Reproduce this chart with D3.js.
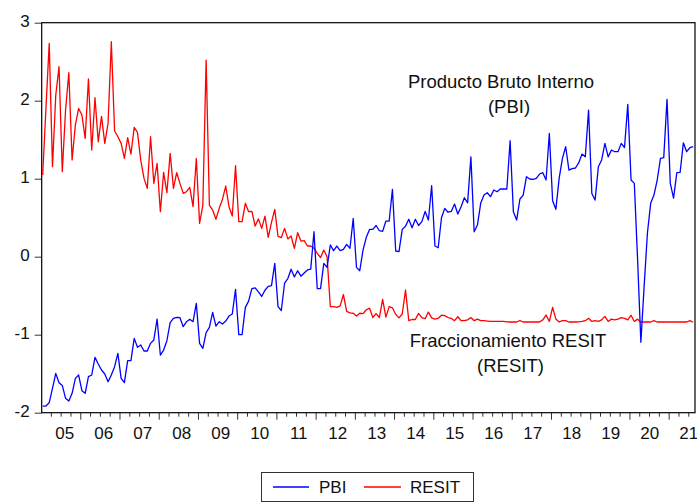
<!DOCTYPE html>
<html>
<head>
<meta charset="utf-8">
<script src="https://cdn.jsdelivr.net/npm/d3@7"></script>
<style>
  html, body { margin: 0; padding: 0; background: #fff; }
  svg { display: block; font-family: "Liberation Sans", Arial, sans-serif; }
</style>
</head>
<body>
<svg id="chart" width="697" height="503"></svg>
<script>
// ---------------- DATA (monthly, 2005M01 - 2021M08) ----------------
const startYear = 2005;
const yearLabels = ["05","06","07","08","09","10","11","12","13","14","15","16","17","18","19","20","21"];
const yTicks = [-2, -1, 0, 1, 2, 3];
const seriesNames = ["PBI", "RESIT"];

const pbi = [
  -1.915,-1.915,-1.872,-1.688,-1.496,-1.615,-1.650,-1.816,-1.850,-1.752,-1.560,-1.517,
  -1.718,-1.752,-1.538,-1.517,-1.291,-1.376,-1.453,-1.504,-1.603,-1.517,-1.410,-1.239,
  -1.560,-1.615,-1.333,-1.333,-1.047,-1.162,-1.132,-1.209,-1.209,-1.111,-1.068,-0.799,
  -1.261,-1.197,-1.077,-0.846,-0.791,-0.778,-0.782,-0.897,-0.833,-0.803,-0.833,-0.598,
  -1.111,-1.175,-0.974,-0.906,-0.714,-0.889,-0.833,-0.863,-0.825,-0.761,-0.735,-0.419,
  -1.00,-1.00,-0.65,-0.57,-0.41,-0.40,-0.45,-0.51,-0.43,-0.38,-0.37,-0.085,
  -0.64,-0.69,-0.34,-0.28,-0.16,-0.26,-0.18,-0.25,-0.21,-0.17,-0.16,0.32,
  -0.41,-0.41,-0.085,-0.137,0.15,0.077,0.137,0.077,0.094,0.158,0.107,0.49,
  -0.137,-0.18,0.085,0.248,0.35,0.35,0.40,0.333,0.325,0.457,0.457,0.863,
  0.073,0.064,0.35,0.39,0.48,0.37,0.48,0.40,0.45,0.58,0.47,0.91,
  0.137,0.115,0.50,0.62,0.57,0.58,0.675,0.547,0.64,0.756,0.69,1.28,
  0.32,0.406,0.684,0.79,0.82,0.77,0.855,0.833,0.868,0.868,0.868,1.487,
  0.577,0.47,0.74,0.79,1.026,0.996,0.991,1.004,1.06,1.077,0.983,1.58,
  0.718,0.607,1.004,1.26,1.41,1.11,1.13,1.137,1.205,1.316,1.28,1.88,
  0.81,0.726,1.154,1.24,1.453,1.28,1.368,1.346,1.346,1.453,1.40,1.953,
  0.983,0.94,-0.04,-1.097,-0.38,0.30,0.684,0.79,0.983,1.26,1.27,2.017,
  0.94,0.75,1.077,1.08,1.46,1.346,1.397,1.41
];

const resit = [
  1.047,1.90,2.735,1.154,2.07,2.436,1.09,1.88,2.36,1.24,1.69,1.90,
  1.816,1.517,2.278,1.368,2.038,1.474,1.80,1.453,1.709,2.756,1.611,1.538,
  1.453,1.26,1.526,1.316,1.658,1.594,1.239,1.004,0.876,1.538,0.94,1.197,
  0.577,1.081,0.82,1.325,0.876,1.077,0.94,0.812,0.833,0.889,0.641,1.26,
  0.427,0.662,2.521,0.662,0.598,0.479,0.62,0.735,0.906,0.641,0.521,1.167,
  0.449,0.449,0.684,0.577,0.58,0.393,0.485,0.363,0.521,0.248,0.44,0.607,
  0.26,0.246,0.363,0.228,0.265,0.107,0.308,0.20,0.205,0.137,0.137,0.11,
  0.043,-0.01,0.085,0.0,-0.64,-0.64,-0.65,-0.63,-0.485,-0.70,-0.72,-0.725,
  -0.76,-0.725,-0.73,-0.68,-0.66,-0.78,-0.73,-0.78,-0.547,-0.775,-0.64,-0.655,
  -0.74,-0.785,-0.735,-0.427,-0.82,-0.805,-0.805,-0.726,-0.78,-0.795,-0.71,-0.785,
  -0.80,-0.79,-0.75,-0.756,-0.78,-0.79,-0.82,-0.77,-0.82,-0.82,-0.81,-0.78,
  -0.82,-0.80,-0.82,-0.82,-0.825,-0.83,-0.83,-0.83,-0.83,-0.83,-0.835,-0.837,
  -0.837,-0.837,-0.82,-0.837,-0.837,-0.837,-0.837,-0.837,-0.837,-0.81,-0.748,-0.83,
  -0.649,-0.80,-0.837,-0.82,-0.82,-0.837,-0.837,-0.837,-0.835,-0.83,-0.82,-0.79,
  -0.83,-0.82,-0.83,-0.81,-0.765,-0.83,-0.80,-0.81,-0.80,-0.78,-0.79,-0.81,
  -0.75,-0.83,-0.80,-0.84,-0.837,-0.837,-0.837,-0.82,-0.837,-0.837,-0.837,-0.837,
  -0.837,-0.837,-0.837,-0.837,-0.837,-0.837,-0.82,-0.84
];

const annotations = [
  { lines: ["Producto Bruto Interno", "(PBI)"], series: "PBI" },
  { lines: ["Fraccionamiento RESIT", "(RESIT)"], series: "RESIT" }
];

// ---------------- CHART ----------------
const svg = d3.select("#chart");
const L = 41.7, R = 695, T = 22.7, B = 412.7;
const nObs = pbi.length;

const x = d3.scaleLinear().domain([-0.3, nObs - 0.44]).range([L, R]);
const y = d3.scaleLinear().domain([-2, 3]).range([B, T]);

// Y axis
const yAxis = svg.append("g")
  .attr("transform", `translate(${L},0)`)
  .call(d3.axisLeft(y).tickValues(yTicks).tickSize(7).tickPadding(5).tickFormat(d => String(d)));
yAxis.select(".domain").remove();
yAxis.selectAll("line").attr("stroke", "#333");
yAxis.selectAll("text").attr("font-size", 17).attr("fill", "#111")
  .attr("font-family", "Liberation Sans, Arial, sans-serif").attr("dy", "0.25em");

// X axis ticks (quarters minor, years major)
const minorTicks = d3.range(1, Math.floor(nObs / 3) + 1).map(k => 3 * k - 0.5).filter(v => v % 12 !== 11.5);
const majorTicks = d3.range(1, yearLabels.length).map(k => 12 * k - 0.5);
const xMinor = svg.append("g").attr("transform", `translate(0,${B})`)
  .call(d3.axisBottom(x).tickValues(minorTicks).tickSize(4).tickFormat(""));
xMinor.select(".domain").remove();
const xMajor = svg.append("g").attr("transform", `translate(0,${B})`)
  .call(d3.axisBottom(x).tickValues(majorTicks).tickSize(7).tickFormat(""));
xMajor.select(".domain").remove();
svg.selectAll("g line").attr("stroke", "#333");

// X labels (near the middle of each year)
const labelPos = yearLabels.map((d, k) => 12 * k + 6.6 - 0.07 * k);
const xLab = svg.append("g").attr("transform", `translate(0,${B})`)
  .call(d3.axisBottom(x).tickValues(labelPos).tickSize(0).tickPadding(14)
    .tickFormat((d, k) => yearLabels[k]));
xLab.select(".domain").remove();
xLab.selectAll("text").attr("font-size", 17).attr("fill", "#111")
  .attr("font-family", "Liberation Sans, Arial, sans-serif");

// Frame
svg.append("rect")
  .attr("x", L).attr("y", T).attr("width", R - L).attr("height", B - T)
  .attr("fill", "none").attr("stroke", "#000").attr("stroke-width", 1.2);

// Lines
const line = d3.line().x((d, i) => x(i)).y(d => y(d));
svg.append("path").datum(resit)
  .attr("d", line).attr("fill", "none").attr("stroke", "#ff0000").attr("stroke-width", 1.3)
  .attr("stroke-linejoin", "round");
svg.append("path").datum(pbi)
  .attr("d", line).attr("fill", "none").attr("stroke", "#0000ff").attr("stroke-width", 1.3)
  .attr("stroke-linejoin", "round");

// Annotations
const annPos = [
  { cx: [501, 509], by: [88, 113] },
  { cx: [508, 510.5], by: [347, 372] }
];
annotations.forEach((a, ai) => {
  a.lines.forEach((t, li) => {
    svg.append("text")
      .attr("x", annPos[ai].cx[li]).attr("y", annPos[ai].by[li])
      .attr("text-anchor", "middle").attr("font-size", 18.5).attr("fill", "#111")
      .text(t);
  });
});

// Legend
const leg = svg.append("g");
leg.append("rect").attr("x", 261.5).attr("y", 472.5).attr("width", 212).attr("height", 29)
  .attr("fill", "#fff").attr("stroke", "#333").attr("stroke-width", 1);
const legItems = [
  { name: seriesNames[0], color: "#0000ff", x1: 273, x2: 309, tx: 319 },
  { name: seriesNames[1], color: "#ff0000", x1: 364, x2: 401, tx: 410 }
];
legItems.forEach(it => {
  leg.append("line").attr("x1", it.x1).attr("x2", it.x2).attr("y1", 487).attr("y2", 487)
    .attr("stroke", it.color).attr("stroke-width", 1.3);
  leg.append("text").attr("x", it.tx).attr("y", 493).attr("font-size", 17).attr("fill", "#111")
    .text(it.name);
});
</script>
</body>
</html>
